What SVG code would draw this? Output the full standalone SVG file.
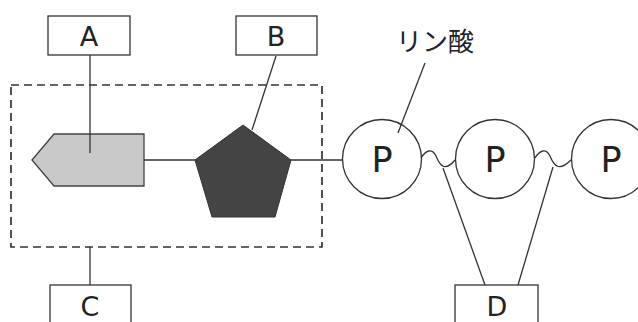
<svg xmlns="http://www.w3.org/2000/svg" width="638" height="322" viewBox="0 0 638 322">
<style>
.box{fill:#fff;stroke:#333;stroke-width:1.3}
.ln{fill:none;stroke:#333;stroke-width:1.3}
.lbl{font-family:"DejaVu Sans",sans-serif;font-size:27px;fill:#222;text-anchor:middle}
.p{font-family:"DejaVu Sans",sans-serif;font-size:35px;fill:#222;text-anchor:middle}
.circ{fill:#fff;stroke:#333;stroke-width:1.3}
</style>
<rect width="638" height="322" fill="#fff"/>
<g id="group-dashed">
<rect x="11" y="85" width="311" height="162" fill="none" stroke="#333" stroke-width="1.7" stroke-dasharray="8,5"/>
</g>
<g id="base">
<polygon points="32,160 54,134 144,134 144,186 54,186" fill="#c9c9c9" stroke="#444" stroke-width="1.3"/>
</g>
<g id="sugar">
<polygon points="243,125 291,160 275,217 212,217 195,160" fill="#444" stroke="#333" stroke-width="1"/>
</g>
<g id="P1"><circle class="circ" cx="382" cy="159" r="39.5"/><text class="p" x="382" y="172">P</text></g>
<g id="P2"><circle class="circ" cx="495" cy="159" r="39.5"/><text class="p" x="495" y="172">P</text></g>
<g id="P3"><circle class="circ" cx="611" cy="159" r="39.5"/><text class="p" x="611" y="172">P</text></g>
<g id="A"><rect class="box" x="48" y="16" width="82" height="39"/><text class="lbl" x="89" y="46">A</text></g>
<g id="B"><rect class="box" x="236" y="16" width="81" height="39"/><text class="lbl" x="276" y="46">B</text></g>
<g id="C"><rect class="box" x="50" y="285" width="81" height="45"/><text class="lbl" x="90" y="316">C</text></g>
<g id="D"><rect class="box" x="455" y="285" width="83" height="45"/><text class="lbl" x="497" y="316">D</text></g>
<g id="phosphate-label"><text x="435" y="51" font-family="'Noto Sans CJK JP',sans-serif" font-size="26" fill="#222" text-anchor="middle">リン酸</text></g>
<g id="connectors">
<line class="ln" x1="90" y1="55" x2="90" y2="153"/>
<line class="ln" x1="276" y1="56" x2="252" y2="130"/>
<line class="ln" x1="144" y1="160" x2="195" y2="160"/>
<line class="ln" x1="291" y1="160" x2="343" y2="160"/>
<line class="ln" x1="90" y1="247" x2="90" y2="285"/>
<line class="ln" x1="425" y1="63" x2="398" y2="133"/>
<path class="ln" d="M421,158 C426,150 432,148 436,156 C440,166 445,172 455,160"/>
<path class="ln" d="M535,158 C540,150 546,148 550,156 C554,166 559,172 571,160"/>
<line class="ln" x1="443" y1="168" x2="485" y2="285"/>
<line class="ln" x1="553" y1="167" x2="518" y2="285"/>
</g>
</svg>
